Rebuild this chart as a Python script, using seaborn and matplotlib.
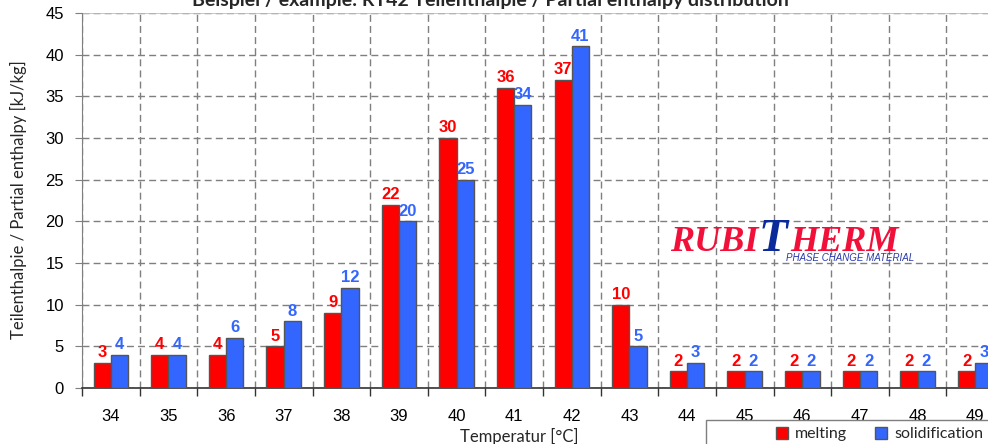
import pandas as pd
import matplotlib.pyplot as plt
from matplotlib.patches import Rectangle
from matplotlib.lines import Line2D
import matplotlib.ticker as ticker
import seaborn as sns

temps = [34, 35, 36, 37, 38, 39, 40, 41, 42, 43, 44, 45, 46, 47, 48, 49]
melting = [3, 4, 4, 5, 9, 22, 30, 36, 37, 10, 2, 2, 2, 2, 2, 2]
solidification = [4, 4, 6, 8, 12, 20, 25, 34, 41, 5, 3, 2, 2, 2, 2, 3]
series_names = ['melting', 'solidification']
y_ticks = [0, 5, 10, 15, 20, 25, 30, 35, 40, 45]

RED = '#ff0000'
BLUE = '#3366ff'


def build_frame():
    df = pd.DataFrame({'temp': temps, 'melting': melting, 'solidification': solidification})
    return df.melt(id_vars='temp', var_name='series', value_name='value')


def main():
    sns.set_style('white')
    plt.rcParams['font.family'] = ['Liberation Sans', 'DejaVu Sans']
    W, H = 988, 444
    fig = plt.figure(figsize=(W / 100, H / 100), dpi=100)
    # plot area runs past the right edge of the picture
    ax = fig.add_axes([82 / W, 1 - 388 / H, 922 / W, 375 / H])

    long_df = build_frame()
    sns.barplot(data=long_df, x='temp', y='value', hue='series', hue_order=series_names,
                palette=[RED, BLUE], width=0.6, edgecolor='#555555', linewidth=1,
                saturation=1, legend=False, ax=ax, zorder=3)

    for cont, col in zip(ax.containers, [RED, BLUE]):
        ax.bar_label(cont, padding=2, color=col, fontsize=12, fontweight='bold', zorder=4)

    ax.set_xlim(-0.5, len(temps) - 0.5)
    ax.set_ylim(0, 45)
    ax.set_yticks(y_ticks)
    ax.xaxis.set_minor_locator(ticker.FixedLocator([i + 0.5 for i in range(-1, len(temps))]))
    ax.grid(axis='y', which='major', linestyle=(0, (5, 3)), color='#7f7f7f', linewidth=1, zorder=0)
    ax.grid(axis='x', which='minor', linestyle=(0, (5, 3)), color='#7f7f7f', linewidth=1, zorder=0)
    ax.grid(axis='x', which='major', visible=False)
    ax.axhline(45, color='#bfbfbf', linewidth=1.2, zorder=1)

    ax.tick_params(axis='x', which='major', length=0, pad=15, labelsize=12, colors='black')
    ax.tick_params(axis='x', which='minor', length=6, direction='out', color='#333333', width=1, bottom=True)
    ax.tick_params(axis='y', length=5, direction='out', color='#7f7f7f', pad=8, labelsize=12, left=True)
    for lab in ax.get_xticklabels() + ax.get_yticklabels():
        lab.set_color('black')

    for side in ['top', 'right']:
        ax.spines[side].set_visible(False)
    ax.spines['left'].set_color('#7f7f7f')
    ax.spines['bottom'].set_color('#333333')
    ax.spines['bottom'].set_linewidth(1.2)
    ax.set_xlabel('')
    ax.set_ylabel('')

    fig.text(18 / W, 1 - 200 / H, 'Teilenthalpie / Partial enthalpy [kJ/kg]', rotation=90,
             ha='center', va='center', fontsize=12, family=['Lato', 'DejaVu Sans'])
    fig.text(519 / W, 1 - 436 / H, 'Temperatur [°C]', ha='center', va='center',
             fontsize=12, family=['Lato', 'DejaVu Sans'])
    # title sits mostly above the top edge, as in the source image
    fig.text(490 / W, 1 - 6 / H,
             'Beispiel / example: RT42 Teilenthalpie / Partial enthalpy distribution',
             ha='center', va='baseline', fontsize=14, fontweight='bold',
             family=['Lato', 'DejaVu Sans'])

    # logo
    logo_font = ['Liberation Serif', 'DejaVu Serif']
    fig.text(670 / W, 1 - 251 / H, 'RUBI', color='#f0103a', fontsize=26, fontweight='bold',
             style='italic', family=logo_font, va='baseline')
    fig.text(759 / W, 1 - 251 / H, 'T', color='#0a2a9c', fontsize=34, fontweight='bold',
             style='italic', family=logo_font, va='baseline')
    fig.text(790 / W, 1 - 251 / H, 'HERM', color='#f0103a', fontsize=26, fontweight='bold',
             style='italic', family=logo_font, va='baseline')
    fig.text(786 / W, 1 - 258 / H, 'PHASE CHANGE MATERIAL', color='#2a3aa8', fontsize=7,
             style='italic', family=['Liberation Sans', 'DejaVu Sans'], va='center')

    # legend box
    fig.patches.append(Rectangle((706 / W, -0.05), 300 / W, 0.05 + (444 - 420) / H,
                                 transform=fig.transFigure, facecolor='white',
                                 edgecolor='#7f7f7f', linewidth=1))
    handles = [Line2D([], [], marker='s', linestyle='none', markersize=9,
                      markerfacecolor=c, markeredgecolor='#555555') for c in [RED, BLUE]]
    fig.legend(handles, series_names, loc='center left', bbox_to_anchor=(772 / W, 1 - 434 / H),
               ncol=2, frameon=False, handletextpad=0.25, columnspacing=1.5,
               handlelength=1.2, borderpad=0, borderaxespad=0,
               prop={'family': ['Lato', 'DejaVu Sans'], 'size': 11.5})

    fig.savefig('out.png', dpi=100)


if __name__ == '__main__':
    main()
